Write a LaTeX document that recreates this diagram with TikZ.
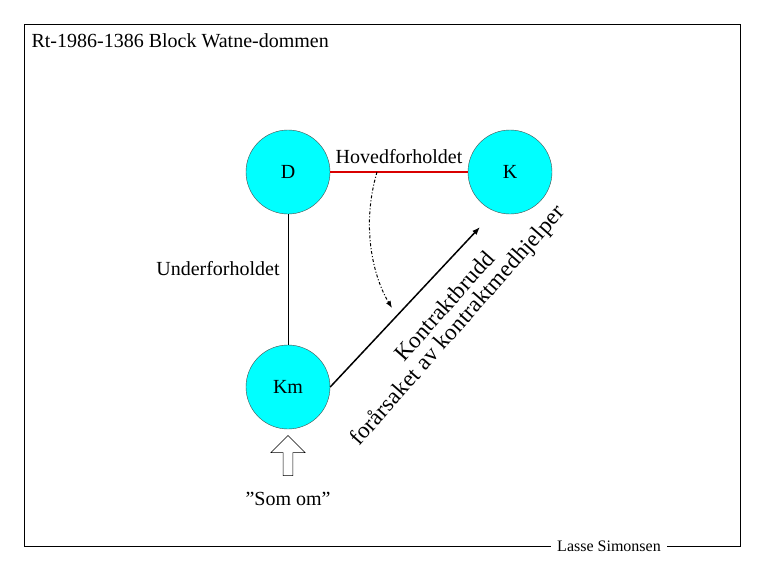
\documentclass[tikz,border=0pt]{standalone}
\usepackage{fontspec}
\setmainfont{Liberation Serif}
\usetikzlibrary{arrows.meta,shapes.arrows}
\begin{document}
\begin{tikzpicture}[x=1pt,y=-1pt,
  party/.style={circle,draw=black!70,line width=0.4pt,fill={rgb,255:red,0;green,255;blue,255},minimum size=84pt,inner sep=0pt,font=\fontsize{20}{22}\selectfont},
  lbl/.style={font=\fontsize{20}{22}\selectfont},
  rot/.style={rotate=48.5,font=\fontsize{23}{25}\selectfont\addfontfeature{LetterSpace=1}}]
\useasboundingbox (0,0) rectangle (765,570);
\draw[line width=0.6pt] (24,24) rectangle (740,546);
\node[anchor=west,lbl] at (28,41) {Rt-1986-1386 Block Watne-dommen};
\node[party] (D) at (288,172) {D};
\node[party] (K) at (510,172) {K};
\node[party] (Km) at (288,387) {Km};
\draw[red!85!black,line width=2pt] (D.east) -- (K.west) node[midway,above=4pt,black,lbl] (hf) {Hovedforholdet};
\draw[line width=0.5pt] (D.south) -- (Km.north);
\node[lbl] (uf) at (218,269) {Underforholdet};
\draw[line width=1.5pt,-{Latex[length=8pt]}] (Km.east) -- (480,227) coordinate (ae);
\coordinate (ds) at (377,172);
\coordinate (de) at (392,308);
\draw[line width=1pt,dash dot,-{Latex[length=7pt]}] (ds) .. controls (360,230) and (375,280) .. (de);
\node[rot] (kb) at (444,306) {Kontraktbrudd};
\node[rot] (fa) at (458,326) {forårsaket av kontraktmedhjelper};
\node[single arrow,draw,fill=white,shape border rotate=90,minimum height=40pt,minimum width=34pt,single arrow head extend=9pt,line width=0.6pt] (up) at (288,458) {};
\node[lbl] (so) at (288,499) {”Som om”};
\node[fill=white,font=\fontsize{16}{18}\selectfont,inner xsep=6pt] (ls) at (609,546) {Lasse Simonsen};
\end{tikzpicture}
\end{document}
